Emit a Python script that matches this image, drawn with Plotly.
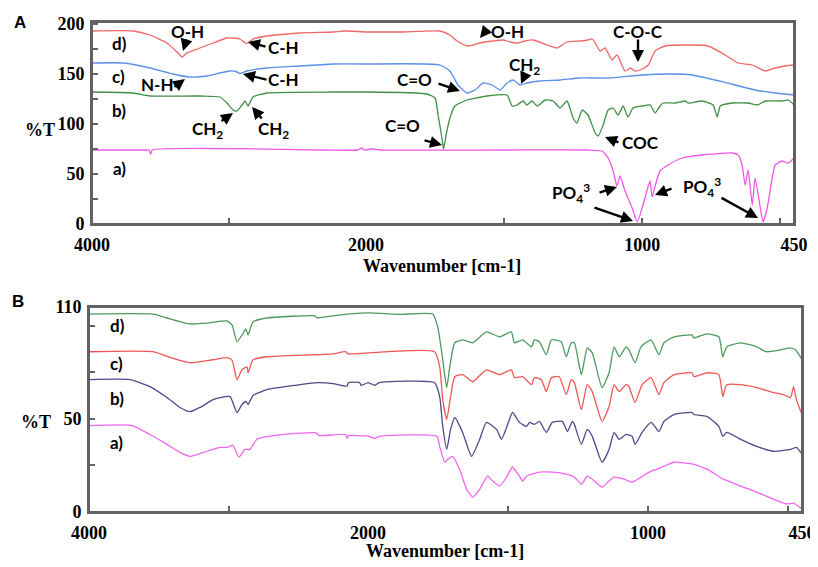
import plotly.graph_objects as go

# ---------------- data: wavenumber (cm-1) and %T ----------------
# Panel A
A_d_wn = [4000, 3701, 3577, 3453, 3380, 3343, 3307, 3212, 3117, 3015, 2971, 2920, 2883, 2861, 2825, 2723, 2482, 2241, 2160, 2000,
          1877, 1732, 1696, 1670, 1634, 1612, 1587, 1540, 1504, 1478, 1453, 1424, 1395, 1344, 1308, 1272, 1225, 1196, 1181, 1170,
          1152, 1134, 1109, 1091, 1062, 1043, 1025, 1000, 978, 953, 917, 844, 761, 699, 652, 601, 554, 518, 482, 450]
A_d_T = [193, 193, 189, 181, 172, 167, 171, 176, 181, 186, 186, 185, 181, 181, 185, 188, 191, 192, 193, 192,
         192, 193, 189, 183, 178, 179, 181, 183, 184, 182, 181, 183, 184, 179, 176, 182, 183, 184, 185, 181,
         173, 176, 164, 169, 153, 156, 153, 155, 159, 173, 178, 179, 178, 169, 161, 159, 153, 156, 158, 159]

A_c_wn = [4000, 3774, 3577, 3409, 3285, 3161, 3066, 2993, 2950, 2920, 2869, 2723, 2482, 2241, 2000,
          1732, 1696, 1667, 1634, 1605, 1576, 1543, 1514, 1489, 1467, 1442, 1417, 1370, 1297, 1225, 1123, 1000, 891, 819, 736,
          663, 591, 518, 450]
A_c_T = [161, 161, 156, 150, 147, 148, 151, 153, 152.5, 150.5, 153, 156, 158, 160, 160,
         159, 153, 139, 131, 134, 141, 139, 134, 141, 144, 139, 141, 143, 144, 146, 146, 149, 150, 149, 144,
         139, 134, 131, 129]

A_b_wn = [4000, 3701, 3577, 3212, 3066, 3015, 2971, 2942, 2905, 2883, 2861, 2825, 2723, 2241, 2000,
          1779, 1750, 1739, 1725, 1719, 1710, 1696, 1678, 1634, 1562, 1489, 1471, 1453, 1431, 1417, 1399, 1380, 1351, 1322, 1297,
          1272, 1250, 1236, 1217, 1196, 1170, 1159, 1141, 1123, 1105, 1087, 1069, 1051, 1033, 1000, 971, 953, 935, 924, 880,
          844, 833, 783, 743, 728, 717, 674, 616, 583, 554, 493, 471, 450]
A_b_T = [132, 131, 128, 128, 127, 121, 114, 113, 119, 123, 118, 127, 131, 132, 132,
         130, 126, 109, 86, 75, 89, 106, 118, 124, 128, 129, 118, 119, 123, 119, 123, 118, 124, 123, 116,
         123, 106, 101, 114, 109, 91, 88, 99, 114, 116, 109, 118, 107, 116, 118, 119, 111, 118, 121, 121,
         123, 121, 123, 119, 107, 118, 121, 121, 119, 123, 123, 124, 119]

A_a_wn = [4000, 3600, 3585, 3572, 3560, 2300, 2060, 2030, 2015, 2000,
          1980, 1950, 1500, 1200, 1145, 1123, 1105, 1091, 1080, 1062, 1036, 1018, 1000, 982, 971, 964, 953, 935, 906, 855,
          783, 674, 652, 638, 627, 616, 601, 591, 572, 562, 547, 529, 518, 493, 471, 450]
A_a_T = [74, 74, 74, 70, 74, 74, 74, 76, 74, 74,
         75, 74, 74, 74, 73, 66, 53, 38, 48, 33, 16, 2, 16, 34, 43, 27, 38, 53, 59, 66,
         69, 71, 69, 59, 39, 54, 19, 46, 16, 2, 16, 46, 59, 63, 61, 66]

# Panel B
B_d_wn = [4000, 3541, 3441, 3276, 3154, 3011, 2975, 2939, 2903, 2875, 2860, 2824, 2724, 2380, 2366, 2151,
          2000, 1886, 1769, 1751, 1733, 1719, 1708, 1690, 1662, 1626, 1577, 1530, 1488, 1477, 1448, 1416, 1406, 1388, 1363, 1345,
          1310, 1292, 1274, 1263, 1238, 1217, 1199, 1164, 1139, 1121, 1103, 1078, 1068, 1046, 1025, 989, 961, 943, 907, 843,
          836, 790, 747, 733, 719, 669, 612, 577, 527, 491, 473, 450]
B_d_T = [106.2, 106.2, 104.1, 100.9, 101.4, 102.5, 100.4, 91.3, 95.0, 98.2, 95.0, 102.0, 104.1, 105.2, 104.2, 106.2,
         106.8, 106.0, 106.2, 99.3, 81.7, 66.7, 77.9, 90.8, 92.4, 90.8, 96.6, 94.0, 96.6, 90.8, 92.4, 88.6, 92.4, 91.3, 84.4, 92.4,
         91.3, 83.3, 90.8, 90.8, 73.7, 88.1, 85.4, 66.7, 74.7, 88.6, 83.3, 88.6, 87.0, 80.1, 88.6, 92.4, 84.4, 90.8, 94.0, 95.0,
         93.4, 95.6, 94.0, 83.3, 88.6, 90.8, 88.6, 86.0, 87.0, 88.1, 87.0, 81.7]

B_c_wn = [4000, 3541, 3400, 3276, 3111, 3011, 2975, 2939, 2903, 2867, 2860, 2824, 2724, 2251, 2160, 2145,
          2000, 1762, 1744, 1733, 1719, 1705, 1690, 1662, 1626, 1577, 1530, 1488, 1477, 1448, 1416, 1406, 1381, 1363, 1345, 1317,
          1292, 1274, 1263, 1238, 1217, 1199, 1164, 1139, 1121, 1103, 1078, 1068, 1046, 1021, 989, 961, 943, 907, 843, 836,
          790, 747, 733, 719, 669, 612, 552, 516, 491, 480, 470, 450]
B_c_T = [86.0, 86.0, 82.5, 80.1, 81.7, 82.8, 81.5, 71.0, 76.3, 77.9, 74.7, 81.7, 83.3, 84.9, 86.0, 84.9,
         85.4, 86.0, 77.9, 60.3, 49.7, 61.9, 72.6, 73.7, 69.9, 76.3, 73.7, 76.3, 72.1, 72.6, 68.3, 72.1, 71.0, 64.6, 72.1, 72.6,
         63.0, 71.0, 69.4, 55.0, 68.3, 64.6, 48.6, 56.6, 68.3, 64.6, 68.3, 67.3, 58.7, 68.3, 72.1, 63.0, 69.4, 73.7, 74.7, 72.6,
         74.7, 73.7, 61.9, 68.3, 68.3, 66.7, 64.1, 63.0, 61.4, 67.3, 60.3, 52.3]

B_b_wn = [4000, 3706, 3563, 3441, 3348, 3276, 3204, 3111, 3061, 2989, 2939, 2903, 2875, 2860, 2824, 2724, 2487, 2366, 2251,
          2150, 2140, 2060, 2050,
          2000, 1975, 1960, 1762, 1744, 1733, 1719, 1705, 1690, 1662, 1630, 1601, 1577, 1541, 1523, 1505, 1484, 1459, 1434, 1423,
          1406, 1388, 1363, 1342, 1306, 1288, 1270, 1263, 1238, 1217, 1199, 1164, 1139, 1121, 1103, 1078, 1057, 1046, 1021, 989,
          961, 943, 907, 843, 836, 790, 747, 733, 719, 669, 612, 552, 491, 470, 450]
B_b_T = [71.0, 71.0, 67.3, 61.4, 56.1, 53.9, 56.1, 60.3, 61.4, 61.9, 53.4, 57.7, 59.3, 57.7, 62.5, 65.7, 68.3, 69.4, 68.9,
         67.5, 69.4, 69.4, 68.0,
         69.4, 68.0, 69.4, 69.4, 61.9, 45.9, 33.6, 44.3, 50.7, 42.7, 29.9, 39.0, 48.1, 44.3, 39.0, 45.4, 53.4, 48.1, 45.9, 48.1,
         47.0, 48.6, 42.7, 48.1, 48.6, 43.2, 48.6, 47.0, 36.3, 44.3, 40.6, 26.7, 33.6, 42.7, 39.0, 41.6, 40.6, 36.3, 42.7, 48.1,
         43.2, 48.6, 52.3, 53.4, 52.3, 51.3, 45.9, 40.6, 42.7, 39.0, 35.2, 32.6, 33.6, 34.7, 31.0]

B_a_wn = [4000, 3692, 3563, 3441, 3348, 3276, 3154, 3061, 3011, 2968, 2925, 2882, 2846, 2796, 2609, 2370, 2355, 2160, 2150, 2140,
          2000, 1975, 1960, 1754, 1744, 1726, 1715, 1698, 1673, 1648, 1626, 1601, 1573, 1555, 1530, 1505, 1484, 1459, 1448, 1434,
          1388, 1342, 1292, 1263, 1238, 1217, 1199, 1164, 1139, 1121, 1085, 1057, 1025, 989, 968, 943, 907, 836, 790, 730,
          669, 612, 552, 505, 480, 450]
B_a_T = [46.4, 46.4, 41.6, 36.3, 32.0, 29.9, 32.6, 34.7, 34.7, 35.8, 29.4, 33.6, 33.6, 39.0, 41.6, 42.5, 41.0, 41.6, 39.5, 41.0,
         40.8, 39.5, 40.6, 40.6, 35.2, 26.7, 28.3, 29.9, 23.0, 12.3, 8.0, 12.3, 19.2, 16.6, 13.9, 18.7, 24.0, 19.2, 16.6, 19.2,
         21.4, 21.4, 20.3, 18.7, 14.9, 19.2, 17.6, 13.3, 16.6, 18.7, 17.6, 16.0, 18.7, 21.9, 23.0, 24.6, 26.7, 25.6, 23.0, 17.6,
         13.9, 10.7, 6.9, 4.3, 4.8, 1.6]

x_tick_labels_hi = ["4000", ""]
x_tick_vals_hi = [4000, 3000]
x_tick_vals_lo = [2000, 1500, 1000, 500, 450]
x_tick_labels_lo = ["2000", "", "1000", "", "450"]
A_y_vals = [0, 25, 50, 75, 100, 125, 150, 175, 200]
A_y_text = ["0", "", "50", "", "100", "", "150", "", "200"]
B_y_vals = [0, 25, 50, 75, 100, 110]
B_y_text = ["0", "", "50", "", "", "110"]

# ---------------- layout helpers ----------------
# the page body has an 8 px default margin, so the figure is drawn 8 px in from the window corner
OFF = 8
FW, FH = 818 - OFF, 567 - OFF


def px(x):
    return (x - OFF) / FW


def py(y):
    return 1 - (y - OFF) / FH


def serif():
    return dict(family="Liberation Serif", size=18, color="black", weight="bold")


def sans():
    return dict(family="Lato", size=17, color="black", weight="bold")


FRAME = "#626262"

panels = {
    "A": dict(x0=92, xs=366, x1=794, y0=224, y1=22, yr=[0, 202], xa="x", xb="x2", ya="y", yb="y3",
              yv=A_y_vals, yt=A_y_text),
    "B": dict(x0=89, xs=368, x1=802, y0=512, y1=307, yr=[0, 110], xa="x3", xb="x4", ya="y2", yb="y4",
              yv=B_y_vals, yt=B_y_text),
}

fig = go.Figure()

series = [
    ("A", A_a_wn, A_a_T, "#f058e8"),
    ("A", A_b_wn, A_b_T, "#3f8f47"),
    ("A", A_c_wn, A_c_T, "#5a8fe8"),
    ("A", A_d_wn, A_d_T, "#ee6868"),
    ("B", B_a_wn, B_a_T, "#f066f0"),
    ("B", B_b_wn, B_b_T, "#4d4b88"),
    ("B", B_c_wn, B_c_T, "#f05555"),
    ("B", B_d_wn, B_d_T, "#4e9a5e"),
]

for pan, wn, t, col in series:
    p = panels[pan]
    hi = [(w, v) for w, v in zip(wn, t) if w >= 2000]
    lo = [(w, v) for w, v in zip(wn, t) if w <= 2000]
    for part, xa, ya in ((hi, p["xa"], p["ya"]), (lo, p["xb"], p["yb"])):
        fig.add_trace(go.Scatter(x=[q[0] for q in part], y=[q[1] for q in part], mode="lines",
                                 line=dict(color=col, width=1.3, shape="spline", smoothing=0.5),
                                 xaxis=xa, yaxis=ya, showlegend=False, hoverinfo="skip"))


def xaxis_def(domain, rng, anchor, vals, texts):
    return dict(showgrid=False, zeroline=False, showline=True, mirror=True, linecolor=FRAME, linewidth=2,
                ticks="inside", ticklen=6, tickwidth=1.5, tickcolor=FRAME, tickfont=serif(), tickmode="array",
                ticklabelstandoff=3, automargin=False, domain=domain, range=rng, anchor=anchor,
                tickvals=vals, ticktext=texts, fixedrange=True)


layout = dict(width=FW, height=FH, margin=dict(l=0, r=0, t=0, b=0, pad=0), autosize=False,
              paper_bgcolor="white", plot_bgcolor="rgba(0,0,0,0)", showlegend=False, template="none")
axes_map = {"x": "xaxis", "x2": "xaxis2", "x3": "xaxis3", "x4": "xaxis4",
            "y": "yaxis", "y2": "yaxis2", "y3": "yaxis3", "y4": "yaxis4"}
shapes = []
for name, p in panels.items():
    ydom = [py(p["y0"]), py(p["y1"])]
    layout[axes_map[p["xa"]]] = xaxis_def([px(p["x0"]), px(p["xs"])], [4000, 2000], p["ya"],
                                          x_tick_vals_hi, x_tick_labels_hi)
    layout[axes_map[p["xb"]]] = xaxis_def([px(p["xs"]), px(p["x1"])], [2000, 450], p["yb"],
                                          x_tick_vals_lo, x_tick_labels_lo)
    layout[axes_map[p["ya"]]] = dict(showgrid=False, zeroline=False, showline=True, linecolor=FRAME,
                                     linewidth=2, ticks="inside", ticklen=6,
                                     tickwidth=1.5, tickcolor=FRAME, tickfont=serif(), tickmode="array",
                                     tickvals=p["yv"], ticktext=p["yt"], range=p["yr"], automargin=False,
                                     domain=ydom, anchor=p["xa"], ticklabelstandoff=2, fixedrange=True)
    layout[axes_map[p["yb"]]] = dict(showgrid=False, zeroline=False, showline=True, linecolor=FRAME,
                                     linewidth=2, ticks="", showticklabels=False, range=p["yr"],
                                     matches=p["ya"], automargin=False, domain=ydom, anchor=p["xb"],
                                     side="right", fixedrange=True)
    shapes.append(dict(type="rect", xref="paper", yref="paper", x0=px(p["x0"]), x1=px(p["x1"]),
                       y0=py(p["y0"]), y1=py(p["y1"]), line=dict(color=FRAME, width=2), layer="above"))
layout["shapes"] = shapes

annotations = []


def text(t, x, y, font):
    annotations.append(dict(text=t, x=px(x), y=py(y), xref="paper", yref="paper", showarrow=False,
                            xanchor="center", yanchor="middle", font=font))


def arrow(tail, tip):
    annotations.append(dict(text="", x=px(tip[0]), y=py(tip[1]), xref="paper", yref="paper",
                            ax=tail[0] - tip[0], ay=tail[1] - tip[1], showarrow=True,
                            arrowhead=2, arrowsize=1, arrowwidth=2.4, arrowcolor="black", standoff=0))


# panel letters, axis titles
text("A", 20, 22, dict(family="Liberation Sans", size=17, color="black", weight="bold"))
text("B", 18, 301, dict(family="Liberation Sans", size=17, color="black", weight="bold"))
text("%T", 40, 130, serif())
text("%T", 36, 422, serif())
text("Wavenumber [cm-1]", 442, 266, serif())
text("Wavenumber [cm-1]", 445, 551, serif())

labels = [
    ("O-H", 187, 31), ("C-H", 283, 47), ("d)", 120, 44), ("c)", 118, 76), ("N-H", 157, 84),
    ("C-H", 283, 79), ("b)", 119, 111), ("CH<sub>2</sub>", 207, 130), ("CH<sub>2</sub>", 273, 130),
    ("a)", 119, 168), ("O-H", 507, 31), ("C-O-C", 638, 31), ("CH<sub>2</sub>", 524, 66),
    ("C=O", 414, 79), ("C=O", 402, 125), ("COC", 640, 142),
    ("PO<sub>4</sub><sup>3</sup>", 571, 193), ("PO<sub>4</sub><sup>3</sup>", 702, 187),
    ("d)", 117, 325), ("c)", 116, 363), ("b)", 117, 398), ("a)", 116, 442),
]
for t, x, y in labels:
    text(t, x, y, sans())

arrows = [
    ((187, 38), (183, 51)), ((267, 47), (248, 42)), ((173, 88), (185, 79)), ((268, 80), (243, 74)),
    ((220, 122), (233, 113)), ((263, 120), (252, 107)), ((488, 28), (480, 38)), ((638, 38), (638, 62)),
    ((525, 75), (521, 84)), ((437, 83), (460, 91)), ((423, 140), (442, 145)), ((620, 143), (605, 137)),
    ((598, 193), (617, 187)), ((593, 207), (633, 221)), ((673, 188), (655, 195)), ((720, 197), (758, 218)),
]
for tail, tip in arrows:
    arrow(tail, tip)

layout["annotations"] = annotations
fig.update_layout(**layout)
fig.write_html("out.html")
